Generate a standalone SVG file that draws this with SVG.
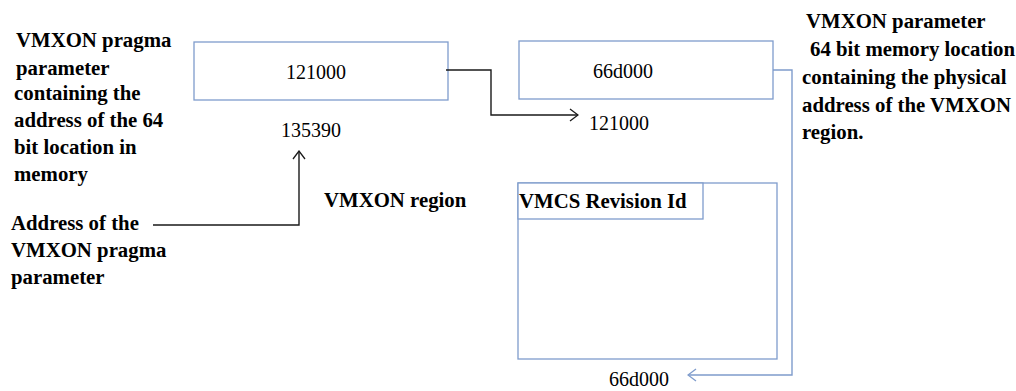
<svg xmlns="http://www.w3.org/2000/svg" width="1016" height="391" viewBox="0 0 1016 391">
  <style>
    .box { fill: #ffffff; stroke: #7f9ccc; stroke-width: 1.3; }
    .lbl { font-family: "Liberation Serif", "Times New Roman", serif; font-size: 20.8px; font-weight: bold; fill: #000; }
    .num { font-family: "Liberation Serif", "Times New Roman", serif; font-size: 20px; fill: #000; }
    .wire { fill: none; stroke: #1a1a1a; stroke-width: 1.4; }
    .wire-blue { fill: none; stroke: #7f9ccc; stroke-width: 1.4; }
  </style>
  <defs>
    <marker id="open-black" viewBox="0 0 10 14" refX="9" refY="7" markerWidth="10" markerHeight="14" markerUnits="userSpaceOnUse" orient="auto">
      <path d="M1,1 L9,7 L1,13" fill="none" stroke="#1a1a1a" stroke-width="1.3"/>
    </marker>
    <marker id="open-blue" viewBox="0 0 10 14" refX="9" refY="7" markerWidth="10" markerHeight="14" markerUnits="userSpaceOnUse" orient="auto">
      <path d="M1,1 L9,7 L1,13" fill="none" stroke="#7f9ccc" stroke-width="1.3"/>
    </marker>
  </defs>
  <rect width="1016" height="391" fill="#ffffff"/>

  <!-- left description of the pragma parameter -->
  <g id="pragma-note">
    <text class="lbl" x="16" y="47">VMXON pragma</text>
    <text class="lbl" x="16" y="75">parameter</text>
    <text class="lbl" x="14" y="100">containing the</text>
    <text class="lbl" x="14" y="127">address of the 64</text>
    <text class="lbl" x="14" y="154">bit location in</text>
    <text class="lbl" x="14" y="181">memory</text>
  </g>

  <!-- pragma parameter cell -->
  <g id="pragma-cell">
    <rect class="box" x="194" y="42" width="254" height="58"/>
    <text class="num" x="316" y="79" text-anchor="middle">121000</text>
    <text class="num" x="311" y="137" text-anchor="middle">135390</text>
  </g>

  <!-- address of the pragma parameter -->
  <g id="address-note">
    <text class="lbl" x="11" y="230">Address of the</text>
    <text class="lbl" x="11" y="257">VMXON pragma</text>
    <text class="lbl" x="11" y="284">parameter</text>
  </g>

  <g id="region-title">
    <text class="lbl" x="324" y="207">VMXON region</text>
  </g>

  <!-- VMXON parameter cell -->
  <g id="param-cell">
    <rect class="box" x="519" y="41" width="254" height="58"/>
    <text class="num" x="623" y="78" text-anchor="middle">66d000</text>
    <text class="num" x="619" y="130" text-anchor="middle">121000</text>
  </g>

  <!-- right description of the parameter -->
  <g id="param-note">
    <text class="lbl" x="806" y="28">VMXON parameter</text>
    <text class="lbl" x="810" y="56">64 bit memory location</text>
    <text class="lbl" x="802" y="84">containing the physical</text>
    <text class="lbl" x="802" y="112">address of the VMXON</text>
    <text class="lbl" x="802" y="139">region.</text>
  </g>

  <!-- VMXON region block -->
  <g id="vmxon-region">
    <rect class="box" x="518" y="183" width="259" height="176"/>
    <rect class="box" x="518" y="183" width="185" height="36"/>
    <text class="lbl" x="519" y="208">VMCS Revision Id</text>
    <text class="num" x="639" y="386" text-anchor="middle">66d000</text>
  </g>

  <!-- connectors -->
  <g id="connectors">
    <path class="wire" d="M446,70 H491 V115 H578" marker-end="url(#open-black)"/>
    <path class="wire" d="M153,225 H299 V151" marker-end="url(#open-black)"/>
    <path class="wire-blue" d="M773,70 H792 V375 H688" marker-end="url(#open-blue)"/>
  </g>
</svg>
